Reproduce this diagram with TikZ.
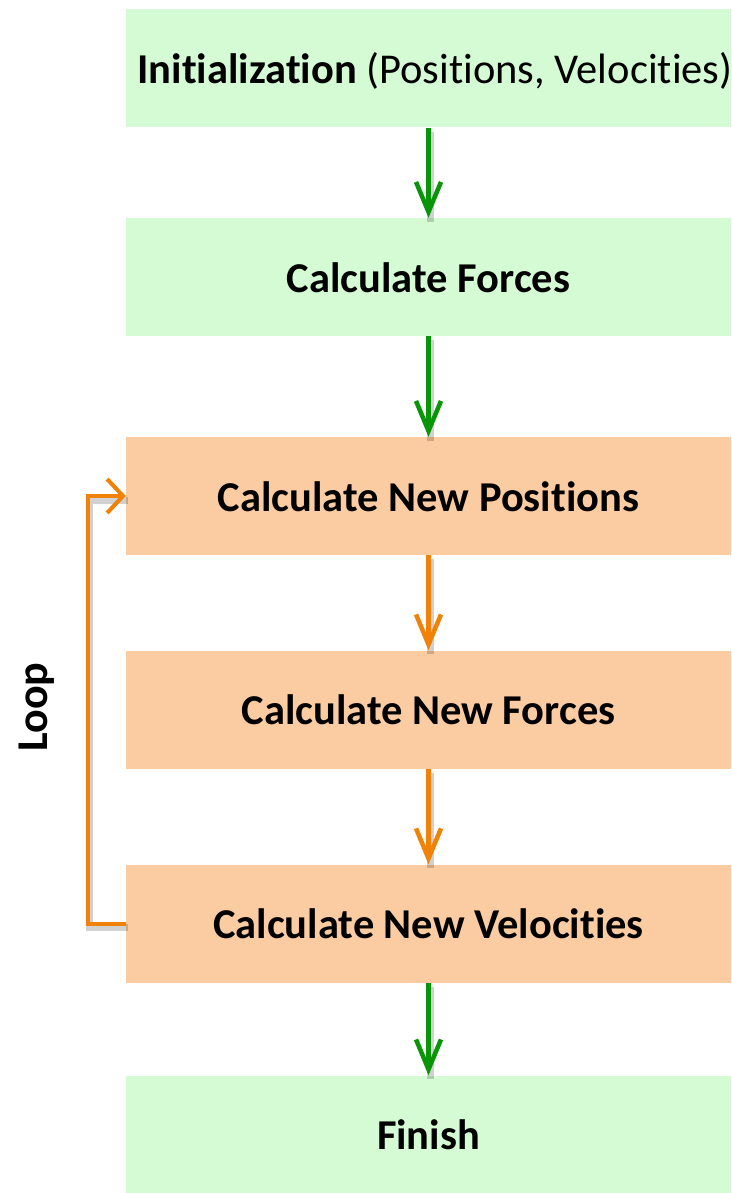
\documentclass[tikz,border=0pt]{standalone}
\usepackage{fontspec}
\setmainfont[Ligatures={NoCommon}]{Carlito}
\usetikzlibrary{arrows.meta}
\definecolor{boxgreen}{RGB}{213,251,213}
\definecolor{boxorange}{RGB}{251,203,161}
\definecolor{arrgreen}{RGB}{8,150,8}
\definecolor{arrorange}{RGB}{240,130,8}
\begin{document}
\begin{tikzpicture}[x=1pt,y=-1pt,
  stagebox/.style={rectangle, draw=none, minimum width=605pt, minimum height=118pt,
    inner sep=0pt, text height=30pt, text depth=0pt, font=\fontsize{42.5}{46}\selectfont\bfseries},
  greenbox/.style={stagebox, fill=boxgreen},
  orangebox/.style={stagebox, fill=boxorange},
  flowarrow/.style={line width=4.5pt, -{Straight Barb[length=30pt,width=25pt]}},
  shadowline/.style={line width=7pt, draw=black, opacity=0.18},
  looparrow/.style={line width=4pt, draw=arrorange, -{Straight Barb[length=16pt,width=34pt]}}
]
\useasboundingbox (0,0) rectangle (731,1193);
\fill[white] (0,0) rectangle (731,1193);

\node[greenbox]  (b1) at (428.5,68.5)  {\makebox[560pt][c]{\hspace*{13pt}Initialization \mdseries(Positions, Velocities)}};
\node[greenbox]  (b2) at (428.5,277)   {Calculate Forces};
\node[orangebox] (b3) at (428.5,496)   {Calculate New Positions};
\node[orangebox] (b4) at (428.5,709.5) {Calculate New Forces};
\node[orangebox] (b5) at (428.5,923.5) {Calculate New Velocities};
\node[greenbox]  (b6) at (428.5,1134.5){Finish};

\node[rotate=90, font=\fontsize{44}{48}\selectfont\bfseries, inner sep=0pt] (loop) at (37,707) {Loop};

% shadows
\begin{scope}[transform canvas={shift={(2pt,-4pt)}}]
\draw[shadowline] (b1.south) -- (b2.north);
\draw[shadowline] (b2.south) -- (b3.north);
\draw[shadowline] (b3.south) -- (b4.north);
\draw[shadowline] (b4.south) -- (b5.north);
\draw[shadowline] (b5.south) -- (b6.north);
\draw[shadowline] (b5.west) -- ++(-38,0) |- (b3.west);
\end{scope}

\draw[flowarrow, draw=arrgreen]  (b1.south) -- (b2.north);
\draw[flowarrow, draw=arrgreen]  (b2.south) -- (b3.north);
\draw[flowarrow, draw=arrorange] (b3.south) -- (b4.north);
\draw[flowarrow, draw=arrorange] (b4.south) -- (b5.north);
\draw[flowarrow, draw=arrgreen]  (b5.south) -- (b6.north);

\draw[looparrow] (b5.west) -- ++(-38,0) |- (b3.west);
\end{tikzpicture}
\end{document}
